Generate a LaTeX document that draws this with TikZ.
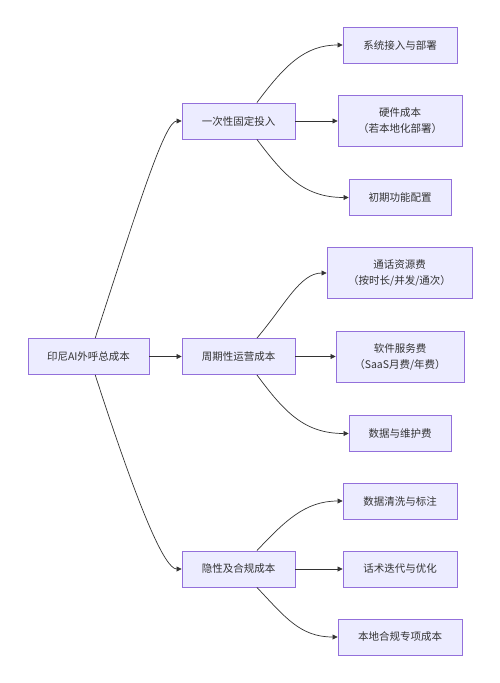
\documentclass[tikz,border=0pt]{standalone}
\usepackage{fontspec}
\newfontfamily\cjk{Noto Sans CJK SC}
\usetikzlibrary{arrows.meta, positioning}
\definecolor{boxfill}{HTML}{ECECFF}
\definecolor{boxborder}{HTML}{9370DB}
\definecolor{linegray}{HTML}{333333}

\begin{document}
\begin{tikzpicture}[
		x=1pt, y=-1pt,
		every node/.style={font=\cjk\fontsize{10.5}{16}\selectfont, text=linegray, align=center},
		box/.style={draw=boxborder, fill=boxfill, line width=0.9pt, minimum height=36pt, inner sep=0pt},
		tall box/.style={box, minimum height=51pt},
		arrow/.style={-{Triangle[length=5pt, width=5pt]}, draw=linegray, line width=0.7pt}
		]
		\useasboundingbox (0,0) rectangle (500,683);
		
		% Nodes
		\node[box, minimum width=121pt] (total) at (88.5, 356.5) {印尼AI外呼总成本};
		
		\node[box, minimum width=113pt] (fixed) at (238.5, 121) {一次性固定投入};
		\node[box, minimum width=113pt] (running) at (238.5, 356.5) {周期性运营成本};
		\node[box, minimum width=113pt] (hidden) at (238.5, 569) {隐性及合规成本};
		
		\node[box, minimum width=114pt] (access) at (400, 45) {系统接入与部署};
		\node[tall box, minimum width=124pt] (hardware) at (400, 121) {硬件成本\\（若本地化部署）};
		\node[box, minimum width=102pt] (setup) at (400, 197.5) {初期功能配置};
		
		\node[tall box, minimum width=145pt] (calls) at (399.5, 273) {通话资源费\\（按时长/并发/通次）};
		\node[tall box, minimum width=128pt] (software) at (400, 357) {软件服务费\\（SaaS月费/年费）};
		\node[box, minimum width=102pt] (upkeep) at (400, 433.5) {数据与维护费};
		
		\node[box, minimum width=114pt] (cleaning) at (400, 501) {数据清洗与标注};
		\node[box, minimum width=114pt] (scripts) at (400, 569) {话术迭代与优化};
		\node[box, minimum width=124pt] (compliance) at (400, 637) {本地合规专项成本};
		
		% Root to categories
		\draw[arrow] (total.70) .. controls (140,200) and (165,121) .. (fixed.west);
		\draw[arrow] (total.east) -- (running.west);
		\draw[arrow] (total.-70) .. controls (140,513) and (165,569) .. (hidden.west);
		
		% One-off costs
		\draw[arrow] (fixed.45) .. controls (285,65) and (305,45) .. (access.west);
		\draw[arrow] (fixed.east) -- (hardware.west);
		\draw[arrow] (fixed.-45) .. controls (285,177) and (305,197.5) .. (setup.west);
		
		% Running costs
		\draw[arrow] (running.45) .. controls (285,305) and (300,273) .. (calls.west);
		\draw[arrow] (running.east) -- (software.west |- running.east);
		\draw[arrow] (running.-45) .. controls (285,413) and (305,433.5) .. (upkeep.west);
		
		% Hidden costs
		\draw[arrow] (hidden.45) .. controls (285,521) and (305,501) .. (cleaning.west);
		\draw[arrow] (hidden.east) -- (scripts.west);
		\draw[arrow] (hidden.-45) .. controls (285,617) and (300,637) .. (compliance.west);
		
	\end{tikzpicture}
\end{document}
